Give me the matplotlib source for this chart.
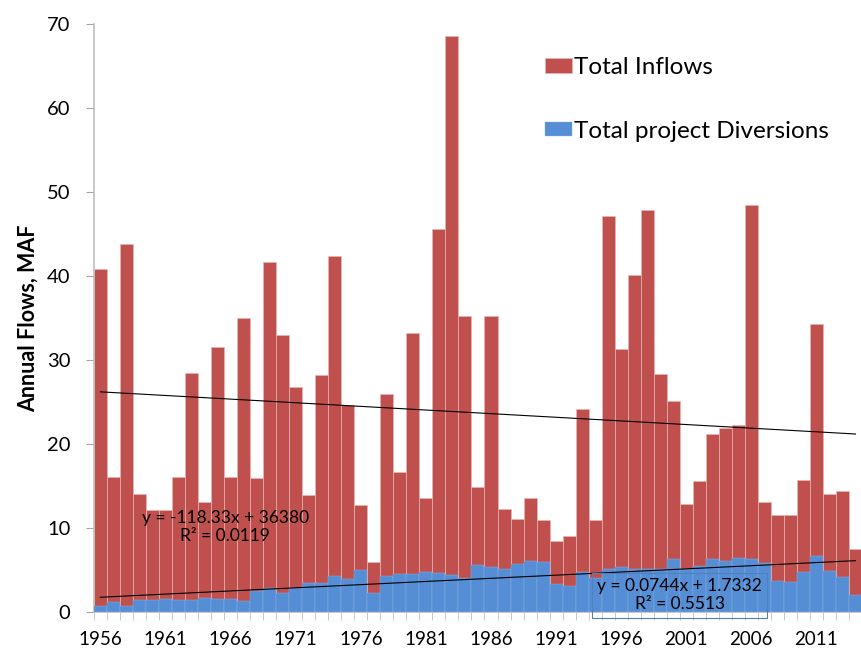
import numpy as np
import matplotlib
matplotlib.use("Agg")
import matplotlib.pyplot as plt

plt.rcParams['font.family'] = ['Lato', 'DejaVu Sans']

years = list(range(1956, 2015))

# Total Inflows, MAF
inflows = [40.8, 16.1, 43.8, 14.1, 12.1, 12.1, 16.1, 28.4, 13.1, 31.6,
           16.1, 35.0, 15.9, 41.7, 33.0, 26.8, 13.9, 28.2, 42.4, 24.6,
           12.7, 5.9, 26.0, 16.7, 33.2, 13.6, 45.6, 68.6, 35.2, 14.9,
           35.2, 12.2, 11.1, 13.6, 10.9, 8.5, 9.0, 24.2, 11.0, 47.1,
           31.3, 40.1, 47.9, 28.3, 25.1, 12.9, 15.6, 21.2, 21.9, 22.3,
           48.4, 13.1, 11.5, 11.5, 15.7, 34.3, 14.1, 14.4, 7.5]

# Total project Diversions, MAF
diversions = [0.7, 1.15, 0.7, 1.4, 1.4, 1.55, 1.4, 1.4, 1.7, 1.5,
              1.6, 1.3, 2.5, 2.9, 2.2, 2.8, 3.4, 3.4, 4.3, 3.9,
              5.0, 2.2, 4.3, 4.5, 4.55, 4.75, 4.65, 4.4, 4.0, 5.55,
              5.35, 5.1, 5.75, 6.1, 6.0, 3.3, 3.1, 4.8, 4.1, 5.1,
              5.35, 5.1, 5.15, 5.1, 6.25, 5.15, 5.5, 6.25, 6.05, 6.45,
              6.25, 5.8, 3.7, 3.6, 4.7, 6.65, 4.9, 4.2, 2.0]

label_years = list(range(1956, 2015, 5))
eq_inflow = "y = -118.33x + 36380\nR² = 0.0119"
eq_divert = "y = 0.0744x + 1.7332\nR² = 0.5513"

red = "#C0504D"
blue = "#558ED5"
font = 14.5

fig = plt.figure(figsize=(8.62, 6.48), dpi=100)
ax = fig.add_axes([0.109, 0.0556, 0.891, 0.9074])

ax.bar(years, inflows, width=1.0, color=red, edgecolor="#E8B4B2", linewidth=0.5,
       label="Total Inflows", zorder=2)
ax.bar(years, diversions, width=1.0, color=blue, edgecolor="#8DB3E2", linewidth=0.3,
       label="Total project Diversions", zorder=3)

# linear trendlines
x = np.array(years)
for series in [inflows, diversions]:
    p = np.polyfit(x, series, 1)
    ax.plot(x, np.polyval(p, x), color="black", lw=0.8, zorder=4)

ax.text(1965.6, 10.1, eq_inflow, ha="center", va="center", fontsize=12.5,
        multialignment="center", zorder=5)
ax.text(2000.5, 2.0, eq_divert, ha="center", va="center", fontsize=12.5,
        multialignment="center", zorder=5,
        bbox=dict(boxstyle="square,pad=0.3", facecolor="none", edgecolor="#4F81BD", lw=0.8))

ax.set_xlim(1955.5, 2014.5)
ax.set_ylim(0, 70)
ax.set_yticks(range(0, 71, 10))
ax.set_xticks(label_years)
ax.set_xticks(np.arange(1955.5, 2015, 1.0), minor=True)

for side in ["top", "right"]:
    ax.spines[side].set_visible(False)
for side in ["left", "bottom"]:
    ax.spines[side].set_color("#BFBFBF")
    ax.spines[side].set_linewidth(1.2)

ax.tick_params(axis="y", which="major", direction="out", length=6, color="#A6A6A6",
               labelsize=font, pad=11)
ax.tick_params(axis="x", which="major", length=0, labelsize=13.5, pad=14)
ax.tick_params(axis="x", which="minor", direction="out", length=6, color="#BFBFBF")

ax.set_ylabel("Annual Flows, MAF", fontsize=15.5, fontweight="bold", labelpad=6)

ax.legend(loc="upper left", bbox_to_anchor=(0.632, 0.912), bbox_transform=fig.transFigure,
          frameon=False, fontsize=17.5, handlelength=1.1, handleheight=0.55,
          handletextpad=0.1, labelspacing=1.75, borderpad=0, borderaxespad=0)

plt.savefig("out.png", dpi=100)
